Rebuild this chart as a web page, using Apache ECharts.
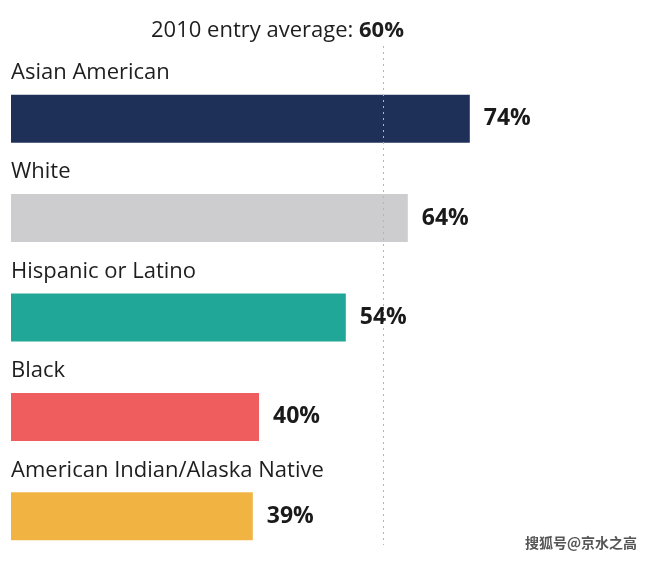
<!DOCTYPE html>
<html><head><meta charset="utf-8">
<script src="https://cdn.jsdelivr.net/npm/echarts@6/dist/echarts.min.js"></script>
<style>html,body{margin:0;padding:0;background:#fff}#c{width:650px;height:561px}</style>
</head><body><div id="c"></div>
<script>
const categories = ['Asian American','White','Hispanic or Latino','Black','American Indian/Alaska Native'];
const values = [74, 64, 54, 40, 39];
const colors = ['#1f3058','#cdcdd0','#20a797','#ef5d5e','#f1b443'];
const averageValue = 60;
const titlePrefix = '2010 entry average: ';
const watermark = '搜狐号@京水之高';
const FONT = 'Open Sans';

const chart = echarts.init(document.getElementById('c'));
chart.setOption({
  backgroundColor: '#fff',
  animation: false,
  title: {
    text: '{a|' + titlePrefix + '}{b|' + averageValue + '%}',
    left: 146, top: 15,
    textStyle: {
      fontWeight: 'normal',
      rich: {
        a: {fontFamily: FONT, fontSize: 22, fontWeight: 'normal', color: '#1e1e1e'},
        b: {fontFamily: FONT, fontSize: 22, fontWeight: 'bold', color: '#1e1e1e'}
      }
    }
  },
  grid: {left: 11, right: 19, top: 69, height: 497, outerBoundsMode: 'none'},
  xAxis: {type: 'value', min: 0, max: 100, show: false},
  yAxis: {type: 'category', data: categories, inverse: true, show: false},
  graphic: [{
    type: 'text', right: 13, top: 536,
    style: {text: watermark, fontSize: 14, fill: '#555', fontFamily: 'Noto Sans CJK SC', fontWeight: 'bold'}
  }],
  series: [{
    type: 'bar',
    barWidth: 48,
    data: values.map((v, i) => ({value: v, itemStyle: {color: colors[i]}})),
    label: {
      show: true, position: 'right', distance: 14,
      formatter: '{c}%',
      fontFamily: FONT, fontSize: 23, fontWeight: 'bold', color: '#1a1a1a'
    },
    markLine: {
      silent: true, symbol: 'none',
      lineStyle: {type: [2, 4], color: '#b5b5b5', width: 1},
      label: {show: false},
      data: [[{xAxis: averageValue, y: 46}, {xAxis: averageValue, y: 545}]]
    },
    z: 3
  }, {
    type: 'bar',
    barWidth: 48,
    barGap: '-100%',
    data: values.map(v => ({value: v, itemStyle: {color: 'transparent'}})),
    label: {
      show: true, position: [0, -22], align: 'left', verticalAlign: 'middle',
      formatter: p => categories[p.dataIndex],
      fontFamily: FONT, fontSize: 22, color: '#1e1e1e'
    },
    z: 4
  }]
});
</script></body></html>
